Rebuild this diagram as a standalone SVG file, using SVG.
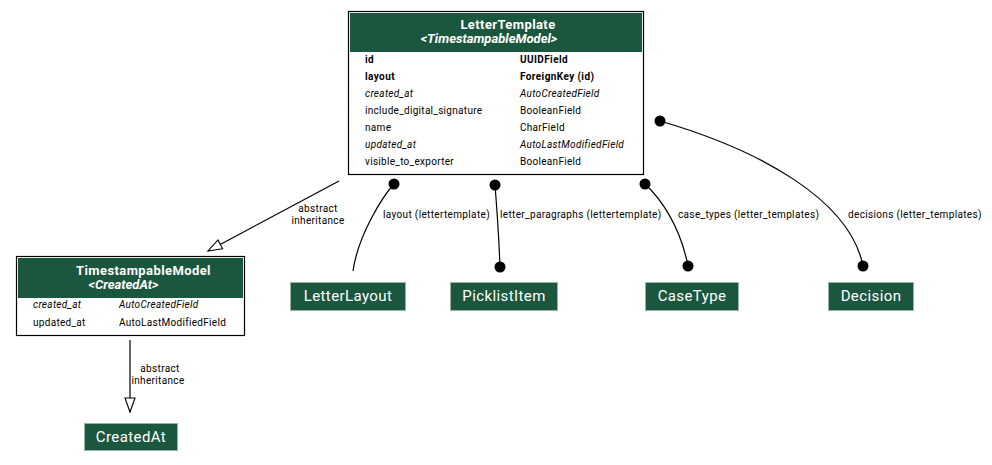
<svg xmlns="http://www.w3.org/2000/svg" width="992" height="465" viewBox="0 0 992 465">
<defs>
<style>
text{font-family:Roboto,"Liberation Sans",sans-serif;fill:#000}
.hdr{fill:#1b563f}
.box{fill:#fff;stroke:#000;stroke-width:1.2}
.title{font-size:13px;font-weight:bold;fill:#fff;letter-spacing:0.4px}
.sub{font-size:13px;font-weight:bold;font-style:italic;fill:#fff}
.row{font-size:10px;letter-spacing:0.3px}
.b{font-weight:bold;letter-spacing:0.4px}
.i{font-style:italic;letter-spacing:0.3px}
.nrect{fill:#1b563f;stroke:#9cb3a8;stroke-width:1}
.nlab{font-size:15px;fill:#fff;text-anchor:middle;letter-spacing:0.4px}
.lab{font-size:10px;letter-spacing:0.35px}
.edge{fill:none;stroke:#000;stroke-width:1.2}
.dot{fill:#000}
</style>
<marker id="inh" markerUnits="userSpaceOnUse" markerWidth="16" markerHeight="12" refX="14" refY="5" orient="auto" overflow="visible">
<path d="M0,0 L14,5 L0,10 Z" fill="#fff" stroke="#000" stroke-width="1.1"/>
</marker>
</defs>

<g id="edges">
<path class="edge" d="M339,181 L208,251" marker-end="url(#inh)"/>
<text class="lab" x="318" y="212" text-anchor="middle">abstract</text>
<text class="lab" x="318" y="224" text-anchor="middle">inheritance</text>

<path class="edge" d="M130,340 L130,412" marker-end="url(#inh)"/>
<text class="lab" x="160" y="372" text-anchor="middle">abstract</text>
<text class="lab" x="158" y="384" text-anchor="middle">inheritance</text>

<path class="edge" d="M394,184 C383,196 358,235 353,271"/>
<circle class="dot" cx="394" cy="184" r="5.5"/>
<text class="lab" x="383" y="218">layout (lettertemplate)</text>

<path class="edge" d="M495,185 C497,210 499,240 500,267"/>
<circle class="dot" cx="495" cy="185" r="5.5"/>
<circle class="dot" cx="500" cy="267" r="5.5"/>
<text class="lab" x="500" y="218">letter_paragraphs (lettertemplate)</text>

<path class="edge" d="M645,184 C660,198 680,225 688,266"/>
<circle class="dot" cx="645" cy="184" r="5.5"/>
<circle class="dot" cx="688" cy="266" r="5.5"/>
<text class="lab" x="678" y="218">case_types (letter_templates)</text>

<path class="edge" d="M660,121 C760,150 850,200 863,266"/>
<circle class="dot" cx="660" cy="121" r="5.5"/>
<circle class="dot" cx="863" cy="266" r="5.5"/>
<text class="lab" x="848" y="218">decisions (letter_templates)</text>
</g>

<g id="LetterTemplate">
<rect class="box" x="348.5" y="11.5" width="295" height="163"/>
<rect class="hdr" x="350" y="13" width="292" height="39"/>
<text class="title" x="508" y="29" text-anchor="middle">LetterTemplate</text>
<text class="sub" x="489" y="42.5" text-anchor="middle">&lt;TimestampableModel&gt;</text>
<text class="row b" x="365" y="63">id</text>
<text class="row b" x="520" y="63">UUIDField</text>
<text class="row b" x="365" y="80">layout</text>
<text class="row b" x="520" y="80">ForeignKey (id)</text>
<text class="row i" x="365" y="97">created_at</text>
<text class="row i" x="520" y="97">AutoCreatedField</text>
<text class="row" x="365" y="114">include_digital_signature</text>
<text class="row" x="520" y="114">BooleanField</text>
<text class="row" x="365" y="131">name</text>
<text class="row" x="520" y="131">CharField</text>
<text class="row i" x="365" y="148">updated_at</text>
<text class="row i" x="520" y="148">AutoLastModifiedField</text>
<text class="row" x="365" y="165">visible_to_exporter</text>
<text class="row" x="520" y="165">BooleanField</text>
</g>

<g id="TimestampableModel">
<rect class="box" x="16.5" y="256.5" width="228" height="79"/>
<rect class="hdr" x="18" y="258" width="225" height="40"/>
<text class="title" x="143.5" y="274.5" text-anchor="middle">TimestampableModel</text>
<text class="sub" x="123.5" y="288.5" text-anchor="middle">&lt;CreatedAt&gt;</text>
<text class="row i" x="33" y="308">created_at</text>
<text class="row i" x="119" y="308">AutoCreatedField</text>
<text class="row" x="33" y="326">updated_at</text>
<text class="row" x="119" y="326">AutoLastModifiedField</text>
</g>

<g id="CreatedAt">
<rect class="nrect" x="84.5" y="423.5" width="93" height="27"/>
<text class="nlab" x="131" y="441.5">CreatedAt</text>
</g>

<g id="LetterLayout">
<rect class="nrect" x="290.5" y="282.5" width="115" height="28"/>
<text class="nlab" x="348" y="301">LetterLayout</text>
</g>

<g id="PicklistItem">
<rect class="nrect" x="450.5" y="282.5" width="107" height="28"/>
<text class="nlab" x="504" y="301">PicklistItem</text>
</g>

<g id="CaseType">
<rect class="nrect" x="645.5" y="282.5" width="93" height="28"/>
<text class="nlab" x="692" y="301">CaseType</text>
</g>

<g id="Decision">
<rect class="nrect" x="828.5" y="282.5" width="85" height="28"/>
<text class="nlab" x="871" y="301">Decision</text>
</g>
</svg>
